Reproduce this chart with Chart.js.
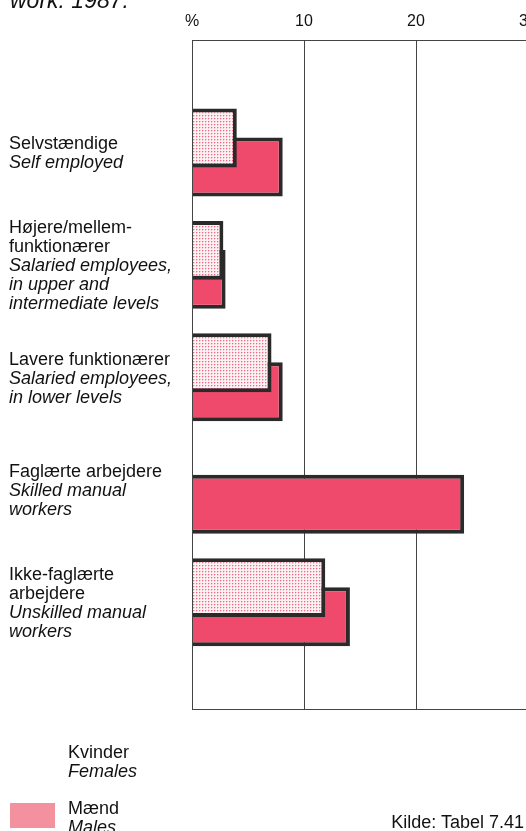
<!DOCTYPE html>
<html>
<head>
<meta charset="utf-8">
<script src="https://cdn.jsdelivr.net/npm/chart.js@4/dist/chart.umd.min.js"></script>
<style>
  html, body { margin: 0; padding: 0; background: #fff; width: 526px; height: 831px; overflow: hidden; }
  #wrap { position: absolute; left: 0; top: 0; width: 560px; height: 831px; }
  .t { position: absolute; font-family: "Liberation Sans", Arial, Helvetica, sans-serif; color: #111; font-size: 18px; line-height: 19px; white-space: nowrap; }
  .it { font-style: italic; }
</style>
</head>
<body>
<div id="wrap"><canvas id="c"></canvas></div>
<div class="t it" id="title" style="left:10px; top:-13px; font-size:23px; line-height:26px;">work. 1987.</div>
<div id="legend"></div>
<div class="t" id="source" style="right:2px; top:813px;">Kilde: Tabel 7.41</div>
<script>
// ---- data ----
const categoriesDa = [
  ["Selvstændige"],
  ["Højere/mellem-", "funktionærer"],
  ["Lavere funktionærer"],
  ["Faglærte arbejdere"],
  ["Ikke-faglærte", "arbejdere"]
];
const categoriesEn = [
  ["Self employed"],
  ["Salaried employees,", "in upper and", "intermediate levels"],
  ["Salaried employees,", "in lower levels"],
  ["Skilled manual", "workers"],
  ["Unskilled manual", "workers"]
];
const seriesDa = ["Kvinder", "Mænd"];
const seriesEn = ["Females", "Males"];
const females = [4.0, 2.8, 7.1, null, 11.9];
const males = [8.1, 3.0, 8.1, 24.3, 14.1];
const xTicks = [0, 10, 20, 30];
const xTickLabels = ["%", "10", "20", "30"];

// ---- styles ----
const FONT = '"Liberation Sans", Arial, Helvetica, sans-serif';
const maleColor = '#ef4a6b';
const maleLegendColor = '#f4919f';
const borderColor = '#2a2a2a';

function dotPattern() {
  const p = document.createElement('canvas');
  p.width = 3; p.height = 3;
  const g = p.getContext('2d');
  g.fillStyle = '#fdf1f3';
  g.fillRect(0, 0, 3, 3);
  g.fillStyle = '#ec6a84';
  g.fillRect(1, 1, 1, 1);
  g.fillStyle = '#f7c3cd';
  g.fillRect(2, 1, 1, 1);
  g.fillRect(1, 2, 1, 1);
  return g.createPattern(p, 'repeat');
}
const ctx0 = document.getElementById('c').getContext('2d');
const femalePattern = dotPattern();

// legend (HTML text)
(function () {
  const lg = document.getElementById('legend');
  const rows = [
    { top: 743, swatch: null },
    { top: 799, swatch: maleLegendColor }
  ];
  rows.forEach((r, i) => {
    const a = document.createElement('div');
    a.className = 't';
    a.style.left = '68px'; a.style.top = r.top + 'px';
    a.textContent = seriesDa[i];
    lg.appendChild(a);
    const b = document.createElement('div');
    b.className = 't it';
    b.style.left = '68px'; b.style.top = (r.top + 19) + 'px';
    b.textContent = seriesEn[i];
    lg.appendChild(b);
    if (r.swatch) {
      const s = document.createElement('div');
      s.style.position = 'absolute';
      s.style.left = '10px'; s.style.top = '803px';
      s.style.width = '45px'; s.style.height = '25px';
      s.style.background = r.swatch;
      lg.appendChild(s);
    }
  });
})();

const categoryLabels = {
  id: 'categoryLabels',
  afterDraw(chart) {
    const y = chart.scales.y;
    const c = chart.ctx;
    const lh = 19, cap = 13;
    c.save();
    c.fillStyle = '#111';
    c.textAlign = 'left';
    c.textBaseline = 'alphabetic';
    categoriesDa.forEach((da, i) => {
      const lines = da.map(t => ({ t, it: false })).concat(categoriesEn[i].map(t => ({ t, it: true })));
      const cy = y.getPixelForValue(i);
      const blockH = (lines.length - 1) * lh + cap;
      let by = cy - blockH / 2 + cap;
      lines.forEach(l => {
        c.font = (l.it ? 'italic ' : '') + '18px ' + FONT;
        c.fillText(l.t, 9, by);
        by += lh;
      });
    });
    c.restore();
  }
};

const frame = {
  id: 'frame',
  afterDatasetsDraw(chart) {
    const a = chart.chartArea;
    const c = chart.ctx;
    c.save();
    c.strokeStyle = '#444';
    c.lineWidth = 1;
    c.beginPath();
    c.moveTo(a.left, a.bottom + 0.5);
    c.lineTo(a.right + 40, a.bottom + 0.5);
    c.moveTo(a.left + 0.5, a.top);
    c.lineTo(a.left + 0.5, a.bottom);
    c.stroke();
    c.restore();
  }
};

new Chart(ctx0, {
  type: 'bar',
  data: {
    datasets: [
      {
        label: seriesDa[0] + ' / ' + seriesEn[0],
        data: females.map((v, i) => ({ x: v, y: i })),
        backgroundColor: femalePattern,
        borderColor: borderColor,
        borderWidth: 4,
        borderSkipped: 'start'
      },
      {
        label: seriesDa[1] + ' / ' + seriesEn[1],
        data: males.map((v, i) => ({ x: v, y: i })),
        backgroundColor: maleColor,
        borderColor: borderColor,
        borderWidth: 4,
        borderSkipped: 'start'
      }
    ]
  },
  options: {
    indexAxis: 'y',
    responsive: true,
    maintainAspectRatio: false,
    animation: false,
    categoryPercentage: 0.516,
    barPercentage: 2.03,
    layout: { padding: { left: 192, right: 32, top: 0, bottom: 122 } },
    plugins: { legend: { display: false }, tooltip: { enabled: false } },
    scales: {
      x: {
        type: 'linear',
        position: 'top',
        min: 0,
        max: 30,
        afterBuildTicks(scale) { scale.ticks = xTicks.map(v => ({ value: v })); },
        afterFit(scale) { scale.height = 40; },
        ticks: {
          callback: (v) => xTickLabels[xTicks.indexOf(v)],
          font: { family: FONT, size: 16 },
          color: '#111',
          padding: 9,
          maxRotation: 0
        },
        grid: { color: '#444', lineWidth: 1, drawTicks: false },
        border: { display: true, color: '#444', width: 1 }
      },
      y: {
        type: 'linear',
        reverse: true,
        offset: false,
        min: -1,
        max: 4.95,
        display: false,
        ticks: { stepSize: 1, includeBounds: false },
        grid: { display: false }
      }
    }
  },
  plugins: [categoryLabels, frame]
});
</script>
</body>
</html>
